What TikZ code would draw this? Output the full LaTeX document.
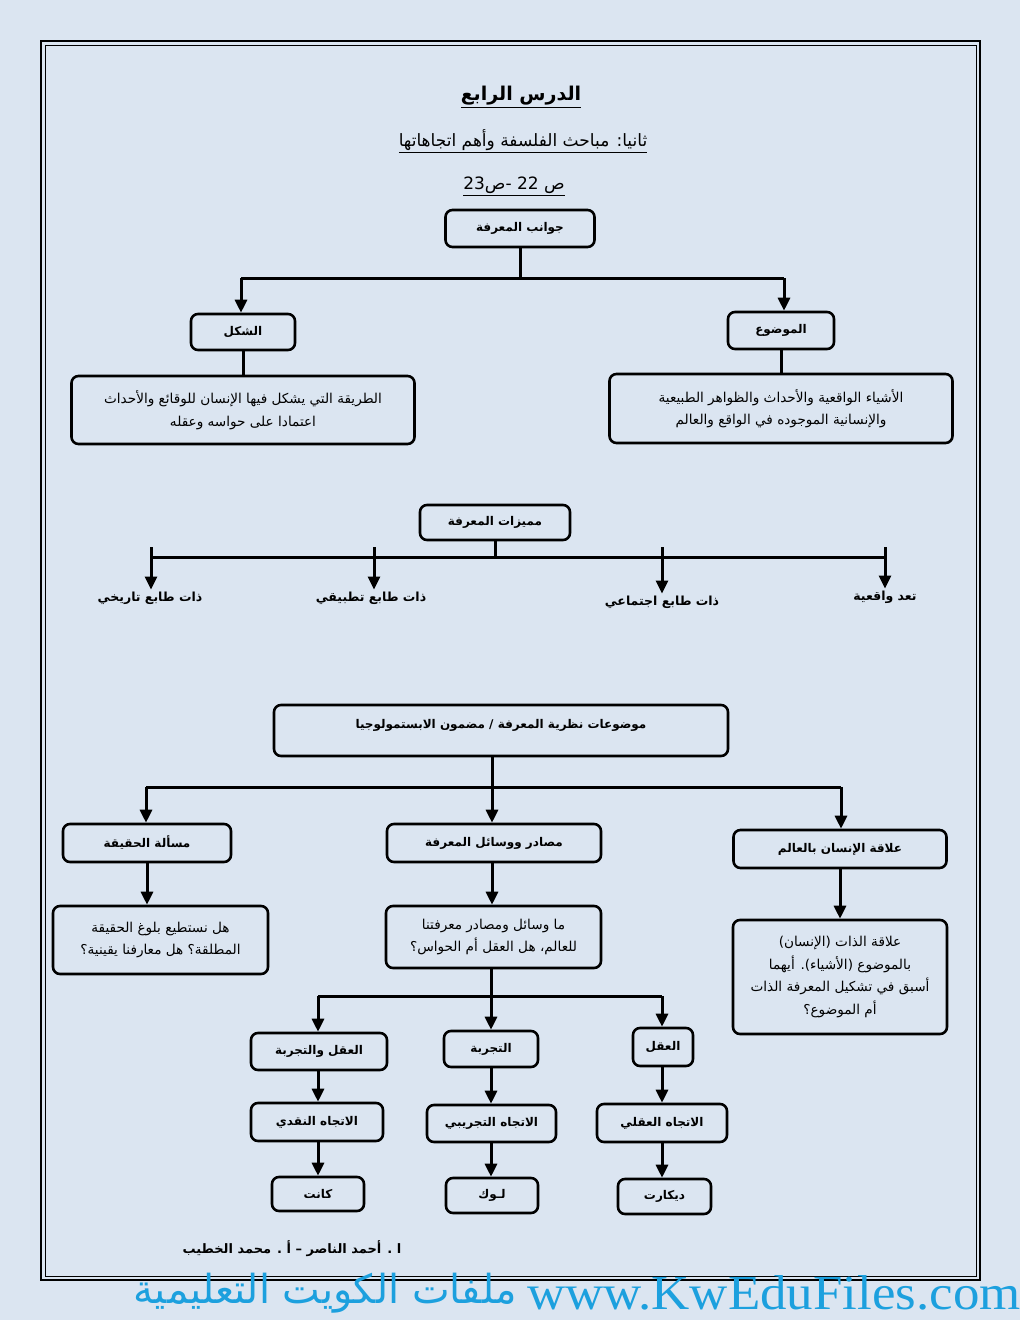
\documentclass[tikz,border=0pt]{standalone}
\usepackage{fontspec}
\setmainfont{Liberation Serif}
\newfontfamily\arabicfont[Script=Arabic]{DejaVu Sans}
\TeXXeTstate=1
\usepackage{xcolor}
\definecolor{pageBlue}{RGB}{219, 229, 241}
\definecolor{siteBlue}{RGB}{28, 160, 222}
\usetikzlibrary{arrows.meta, positioning}
\newcommand{\AR}[1]{\beginR #1\endR}

\tikzset{
  kbox/.style={draw, line width=2.6pt, rounded corners=7pt, align=center, inner sep=2pt,
    font=\arabicfont\bfseries\fontsize{12}{15}\selectfont},
  dbox/.style={kbox, font=\arabicfont\fontsize{13.6}{22.5}\selectfont},
  leaf/.style={inner sep=2pt, font=\arabicfont\bfseries\fontsize{12.5}{15}\selectfont},
  link/.style={line width=3pt},
  arrowlink/.style={line width=3pt, -{Triangle[width=12pt, length=13pt]}},
}

\begin{document}
\begin{tikzpicture}[x=1pt, y=-1pt]
    % page
    \fill[pageBlue] (0,0) rectangle (1020,1320);
    \useasboundingbox (0,0) rectangle (1020,1320);
    \draw[line width=1.6pt] (41,41) rectangle (980,1280);
    \draw[line width=0.7pt] (45,45) rectangle (976,1276);

    % headings
    \node[font=\arabicfont\bfseries\fontsize{19}{22}\selectfont] (title) at (521,97) {\underline{\AR{الدرس الرابع}}};
    \node[font=\arabicfont\fontsize{17}{20}\selectfont] (subtitle) at (523,141) {\underline{\AR{ثانيا: مباحث الفلسفة وأهم اتجاهاتها}}};
    \node[font=\arabicfont\fontsize{17}{20}\selectfont] (pages) at (514,186) {\underline{\AR{ص \beginL 22\endL{} -\kern0pt ص\kern0pt\beginL 23\endL}}};

    % part 1
    \node[kbox, minimum width=149pt, minimum height=37pt] (jawanib) at (520,228.5) {\AR{جوانب المعرفة}};
    \node[kbox, minimum width=104pt, minimum height=36pt] (shakl) at (243,332) {\AR{الشكل}};
    \node[kbox, minimum width=106pt, minimum height=37pt] (mawdu) at (781,330.5) {\AR{الموضوع}};
    \node[dbox, minimum width=343pt, minimum height=68pt] (shaklDesc) at (243,410) {\AR{الطريقة التي يشكل فيها الإنسان للوقائع والأحداث}\\ \AR{اعتمادا على حواسه وعقله}};
    \node[dbox, minimum width=343pt, minimum height=69pt] (mawduDesc) at (781,408.5) {\AR{الأشياء الواقعية والأحداث والظواهر الطبيعية}\\ \AR{والإنسانية الموجوده في الواقع والعالم}};
    \coordinate (j1) at (241,278);
    \coordinate (j2) at (784,278);
    \draw[link] (jawanib.south) -- (jawanib.south |- j1);
    \draw[link] (j1) -- (j2);
    \draw[arrowlink] (j1) -- (j1 |- shakl.north);
    \draw[arrowlink] (j2) -- (j2 |- mawdu.north);
    \draw[link] (shakl.south) -- (shaklDesc.north);
    \draw[link] (mawdu.south) -- (mawduDesc.north);

    % part 2
    \node[kbox, minimum width=150pt, minimum height=35pt] (mayzat) at (495,522.5) {\AR{مميزات المعرفة}};
    \node[leaf] (tarikhi) at (150,598) {\AR{ذات طابع تاريخي}};
    \node[leaf] (tatbiqi) at (371,598) {\AR{ذات طابع تطبيقي}};
    \node[leaf] (ijtimai) at (662,602) {\AR{ذات طابع اجتماعي}};
    \node[leaf] (waqiiya) at (885,597) {\AR{تعد واقعية}};
    \coordinate (m1) at (151,557);
    \coordinate (m2) at (885,557);
    \draw[link] (mayzat.south) -- (mayzat.south |- m1);
    \draw[link] (m1) -- (m2);
    \draw[arrowlink] (151,547) -- (151,0 |- tarikhi.north);
    \draw[arrowlink] (374,547) -- (374,0 |- tatbiqi.north);
    \draw[arrowlink] (662,547) -- (662,0 |- ijtimai.north);
    \draw[arrowlink] (885,547) -- (885,0 |- waqiiya.north);

    % part 3
    \node[kbox, minimum width=454pt, minimum height=51pt, text depth=14pt] (mawduat) at (501,730.5) {\AR{موضوعات نظرية المعرفة / مضمون الابستمولوجيا}};
    \node[kbox, minimum width=168pt, minimum height=38pt] (masala) at (147,843) {\AR{مسألة الحقيقة}};
    \node[kbox, minimum width=214pt, minimum height=38pt] (masadir) at (494,843) {\AR{مصادر ووسائل المعرفة}};
    \node[kbox, minimum width=213pt, minimum height=38pt] (alaqa) at (840,849) {\AR{علاقة الإنسان بالعالم}};
    \node[dbox, minimum width=215pt, minimum height=68pt] (masalaDesc) at (160.5,940) {\AR{هل نستطيع بلوغ الحقيقة}\\ \AR{المطلقة؟ هل معارفنا يقينية؟}};
    \node[dbox, minimum width=215pt, minimum height=62pt] (masadirDesc) at (493.5,937) {\AR{ما وسائل ومصادر معرفتنا}\\ \AR{للعالم، هل العقل أم الحواس؟}};
    \node[dbox, minimum width=214pt, minimum height=114pt] (alaqaDesc) at (840,977) {\AR{علاقة الذات (الإنسان)}\\ \AR{بالموضوع (الأشياء). أيهما}\\ \AR{أسبق في تشكيل المعرفة الذات}\\ \AR{أم الموضوع؟}};
    \coordinate (t1) at (146,787);
    \coordinate (t2) at (841,787);
    \coordinate (t0) at (492,787);
    \draw[link] (t0 |- mawduat.south) -- (t0);
    \draw[link] (t1) -- (t2);
    \draw[arrowlink] (t1) -- (t1 |- masala.north);
    \draw[arrowlink] (t0) -- (t0 |- masadir.north);
    \draw[arrowlink] (t2) -- (t2 |- alaqa.north);
    \draw[arrowlink] (masala.south) -- (masala.south |- masalaDesc.north);
    \draw[arrowlink] (t0 |- masadir.south) -- (t0 |- masadirDesc.north);
    \draw[arrowlink] (alaqa.south) -- (alaqa.south |- alaqaDesc.north);

    % part 4
    \node[kbox, minimum width=136pt, minimum height=37pt] (aqlTajriba) at (319,1051.5) {\AR{العقل والتجربة}};
    \node[kbox, minimum width=94pt, minimum height=36pt] (tajriba) at (491,1049) {\AR{التجربة}};
    \node[kbox, minimum width=60pt, minimum height=38pt] (aql) at (663,1047) {\AR{العقل}};
    \node[kbox, minimum width=132pt, minimum height=38pt] (naqdi) at (317,1122) {\AR{الاتجاه النقدي}};
    \node[kbox, minimum width=129pt, minimum height=37pt] (tajribi) at (491.5,1123.5) {\AR{الاتجاه التجريبي}};
    \node[kbox, minimum width=130pt, minimum height=38pt] (aqli) at (662,1123) {\AR{الاتجاه العقلي}};
    \node[kbox, minimum width=92pt, minimum height=34pt] (kant) at (318,1194) {\AR{كانت}};
    \node[kbox, minimum width=92pt, minimum height=35pt] (locke) at (492,1195.5) {\AR{لـوك}};
    \node[kbox, minimum width=93pt, minimum height=35pt] (descartes) at (664.5,1196.5) {\AR{ديكارت}};
    \coordinate (e1) at (318,996);
    \coordinate (e0) at (491,996);
    \coordinate (e2) at (662,996);
    \draw[link] (e0 |- masadirDesc.south) -- (e0);
    \draw[link] (e1) -- (e2);
    \draw[arrowlink] (e1) -- (e1 |- aqlTajriba.north);
    \draw[arrowlink] (e0) -- (e0 |- tajriba.north);
    \draw[arrowlink] (e2) -- (e2 |- aql.north);
    \draw[arrowlink] (e1 |- aqlTajriba.south) -- (e1 |- naqdi.north);
    \draw[arrowlink] (e0 |- tajriba.south) -- (e0 |- tajribi.north);
    \draw[arrowlink] (e2 |- aql.south) -- (e2 |- aqli.north);
    \draw[arrowlink] (e1 |- naqdi.south) -- (e1 |- kant.north);
    \draw[arrowlink] (e0 |- tajribi.south) -- (e0 |- locke.north);
    \draw[arrowlink] (e2 |- aqli.south) -- (e2 |- descartes.north);

    % footer
    \node[font=\arabicfont\bfseries\fontsize{13}{15}\selectfont] (authors) at (292,1249) {\AR{ا . أحمد الناصر – أ . محمد الخطيب}};
    \node[siteBlue, font=\fontsize{49}{49}\selectfont, xscale=1.08, anchor=base west, inner sep=0pt] (siteUrl) at (527,1309) {www.KwEduFiles.com};
    \node[siteBlue, font=\arabicfont\fontsize{40}{40}\selectfont, anchor=east, inner sep=0pt] (siteName) at (517,1293) {\AR{ملفات الكويت التعليمية}};
\end{tikzpicture}
\end{document}
